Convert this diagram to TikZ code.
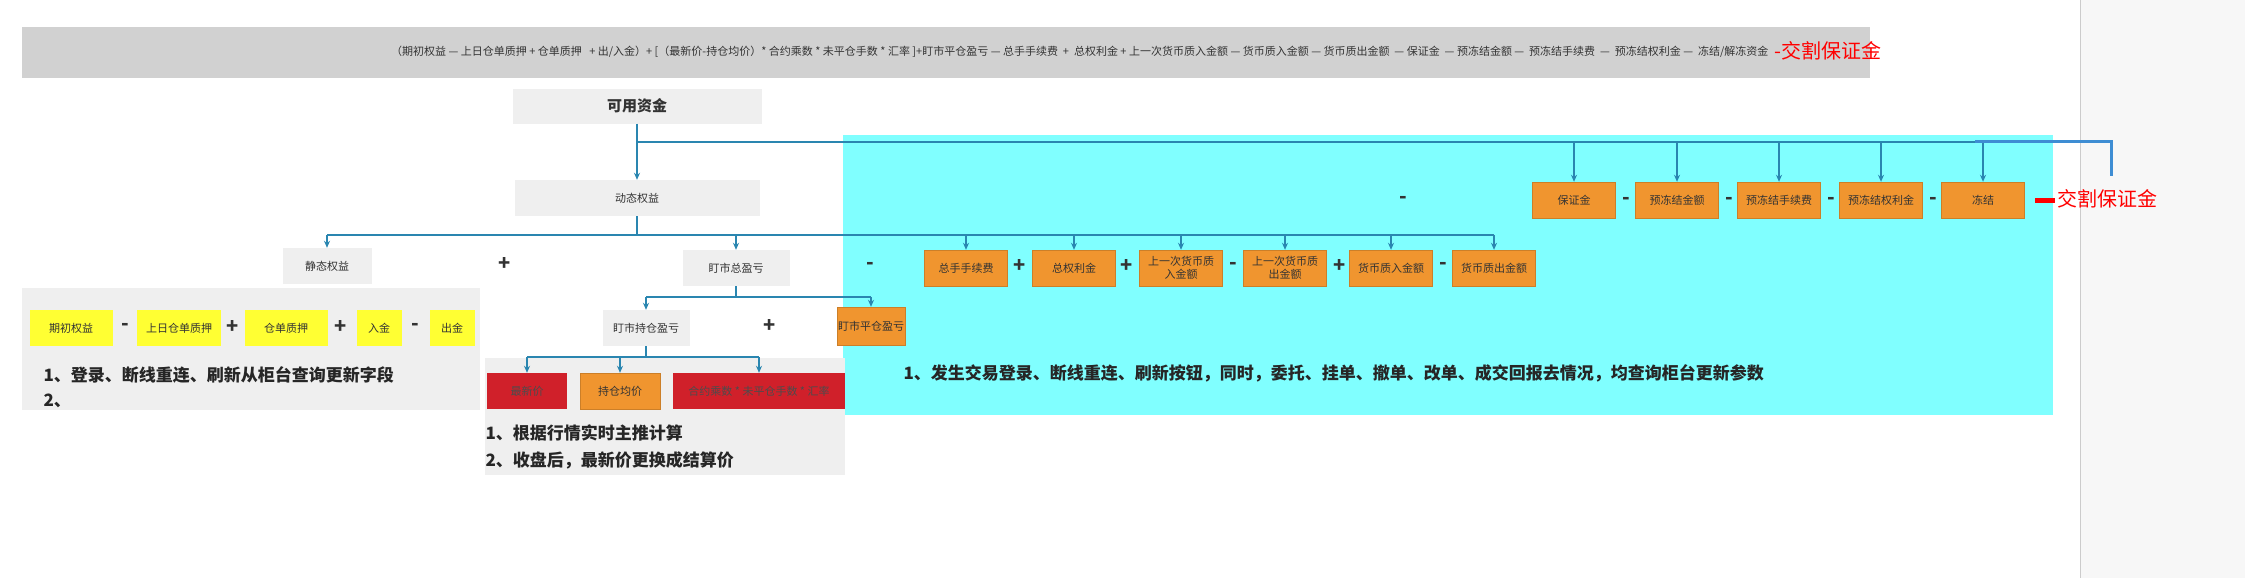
\documentclass[tikz,border=0pt]{standalone}
\usepackage{fontspec}
\setmainfont{Noto Sans CJK SC}
\usetikzlibrary{arrows.meta}
\definecolor{ln}{HTML}{2A86B0}
\definecolor{og}{HTML}{F0952F}
\definecolor{yl}{HTML}{FFFF33}
\definecolor{rd}{HTML}{D0202A}
\definecolor{cy}{HTML}{80FFFF}
\definecolor{gp}{HTML}{EFEFEF}
\definecolor{tx}{HTML}{333333}
\tikzset{
 bx/.style={inner sep=1pt,font=\fontsize{11}{13}\selectfont,text=tx,align=center,minimum height=36pt},
 ob/.style={bx,fill=og,draw=og!85!black,line width=0.4pt},
 yb/.style={bx,fill=yl},
 rb/.style={bx,fill=rd,text=black!70},
 gb/.style={bx,fill=gp},
 sg/.style={font=\fontsize{20}{20}\selectfont\bfseries,text=black!80},
 con/.style={ln,line width=1.3pt},
 arr/.style={con,-{Stealth[length=7pt,width=6pt]}},
 big/.style={font=\fontsize{17}{20}\selectfont\bfseries,text=black!85,anchor=west},
}
\begin{document}
\begin{tikzpicture}[x=1pt,y=-1pt]
\useasboundingbox (0,0) rectangle (2245,578);
\fill[white] (0,0) rectangle (2245,578);
\fill[black!3] (2080,0) rectangle (2245,578);
\draw[black!20] (2080,0) -- (2080,578);
% top bar
\fill[black!18] (22,27) rectangle (1870,78);
\node[font=\fontsize{11}{13}\selectfont,text=tx,anchor=east] (formula) at (1772,52) {（期初权益 — 上日仓单质押 + 仓单质押 \ \ + 出/入金）+ [（最新价-持仓均价）* 合约乘数 * 未平仓手数 * 汇率 ]+盯市平仓盈亏 — 总手手续费 \ + \ 总权利金 + 上一次货币质入金额 — 货币质入金额 — 货币质出金额 \ — 保证金 \ — 预冻结金额 — \ 预冻结手续费 \ — \ 预冻结权利金 — \ 冻结/解冻资金};
\node[font=\fontsize{20}{22}\selectfont,text=red,anchor=west,inner sep=0pt] (jg1) at (1774,51) {-交割保证金};
% panels
\fill[cy] (843,135) rectangle (2053,415);
\fill[gp] (22,288) rectangle (480,410);
\fill[gp] (485,358) rectangle (845,475);
% main nodes
\node[gb,minimum width=249pt,minimum height=35pt,font=\fontsize{15}{17}\selectfont\bfseries] (kyzj) at (637,106) {可用资金};
\node[gb,minimum width=245pt] (dtqy) at (637,198) {动态权益};
\node[gb,minimum width=89pt] (jtqy) at (327,266) {静态权益};
\node[gb,minimum width=107pt] (dszy) at (736,268) {盯市总盈亏};
\node[gb,minimum width=87pt] (dcc) at (646,328) {盯市持仓盈亏};
\node[ob,minimum width=57pt,minimum height=38pt] (dpc) at (871,326) {盯市平仓盈亏};
% row 1
\foreach \n/\c/\t in {r1/1574/保证金,r2/1677/预冻结金额,r3/1779/预冻结手续费,r4/1881/预冻结权利金,r5/1983/冻结/解冻资金}
  \node[ob,minimum width=83pt] (\n) at (\c,200) {\t};
\foreach \x in {1626,1729,1831,1933} \node[sg] at (\x,201) {-};
\node[sg] at (1403,200) {-};
\fill[red] (2035,198) rectangle (2055,203);
\node[font=\fontsize{20}{22}\selectfont,text=red,anchor=west,inner sep=0pt] (jg2) at (2057,199) {交割保证金};
% row 2
\foreach \n/\c/\t in {s1/966/总手手续费,s2/1074/总权利金,s3/1181/{上一次货币质\\入金额},s4/1285/{上一次货币质\\出金额},s5/1391/货币质入金额,s6/1494/货币质出金额}
  \node[ob,minimum width=83pt] (\n) at (\c,268) {\t};
\foreach \x/\s in {1020/+,1127/+,1233/-,1340/+,1443/-} \node[sg] at (\x,266) {\s};
\node[sg] at (505,264) {+};
\node[sg] at (870,266) {-};
\node[sg] at (770,326) {+};
% yellow
\foreach \n/\c/\w/\t in {y1/71/83/期初权益,y2/179/84/上日仓单质押,y3/286/83/仓单质押,y4/379/45/入金,y5/452/45/出金}
  \node[yb,minimum width=\w pt] (\n) at (\c,328) {\t};
\foreach \x/\s in {125/-,233/+,341/+,415/-} \node[sg] at (\x,327) {\s};
% bottom boxes
\node[rb,minimum width=80pt] (zxj) at (527,391) {最新价};
\node[ob,minimum width=80pt] (ccjj) at (620,391) {持仓均价};
\node[rb,minimum width=172pt] (hycs) at (759,391) {合约乘数 * 未平仓手数 * 汇率};
% texts
\node[big] (t1) at (40,375) {1、登录、断线重连、刷新从柜台查询更新字段};
\node[big] (t2) at (40,401) {2、};
\node[big] (t3) at (482,433) {1、根据行情实时主推计算};
\node[big] (t4) at (482,460) {2、收盘后，最新价更换成结算价};
\node[big] (t5) at (900,373) {1、发生交易登录、断线重连、刷新按钮，同时，委托、挂单、撤单、改单、成交回报去情况，均查询柜台更新参数};
% connectors
\coordinate (h1) at (637,142);
\coordinate (h1e) at (1980,142);
\draw[con,line width=2.2pt] (kyzj.south) -- (h1) -- (r1.north |- h1);
\draw[con] (r1.north |- h1) -- (h1e);
\draw[arr] (h1) -- (dtqy.north);
\foreach \n in {r1,r2,r3,r4,r5} \draw[arr] (\n.north |- h1) -- (\n.north);
\draw[color=cyan!60!blue!80,line width=3pt] (1975,141) -- (2111,141) -- (2111,176);
\coordinate (h2) at (637,235);
\draw[con] (dtqy.south) -- (h2);
\draw[con] (jtqy.north |- h2) -- (s6.north |- h2);
\foreach \n in {jtqy,dszy,s1,s2,s3,s4,s5,s6} \draw[arr] (\n.north |- h2) -- (\n.north);
\coordinate (h3) at (736,297);
\draw[con] (dszy.south) -- (h3);
\draw[con] (dcc.north |- h3) -- (dpc.north |- h3);
\draw[arr] (dcc.north |- h3) -- (dcc.north);
\draw[arr] (dpc.north |- h3) -- (dpc.north);
\coordinate (h4) at (646,357);
\draw[con] (dcc.south) -- (h4);
\draw[con] (zxj.north |- h4) -- (hycs.north |- h4);
\foreach \n in {zxj,ccjj,hycs} \draw[arr] (\n.north |- h4) -- (\n.north);
\end{tikzpicture}
\end{document}
